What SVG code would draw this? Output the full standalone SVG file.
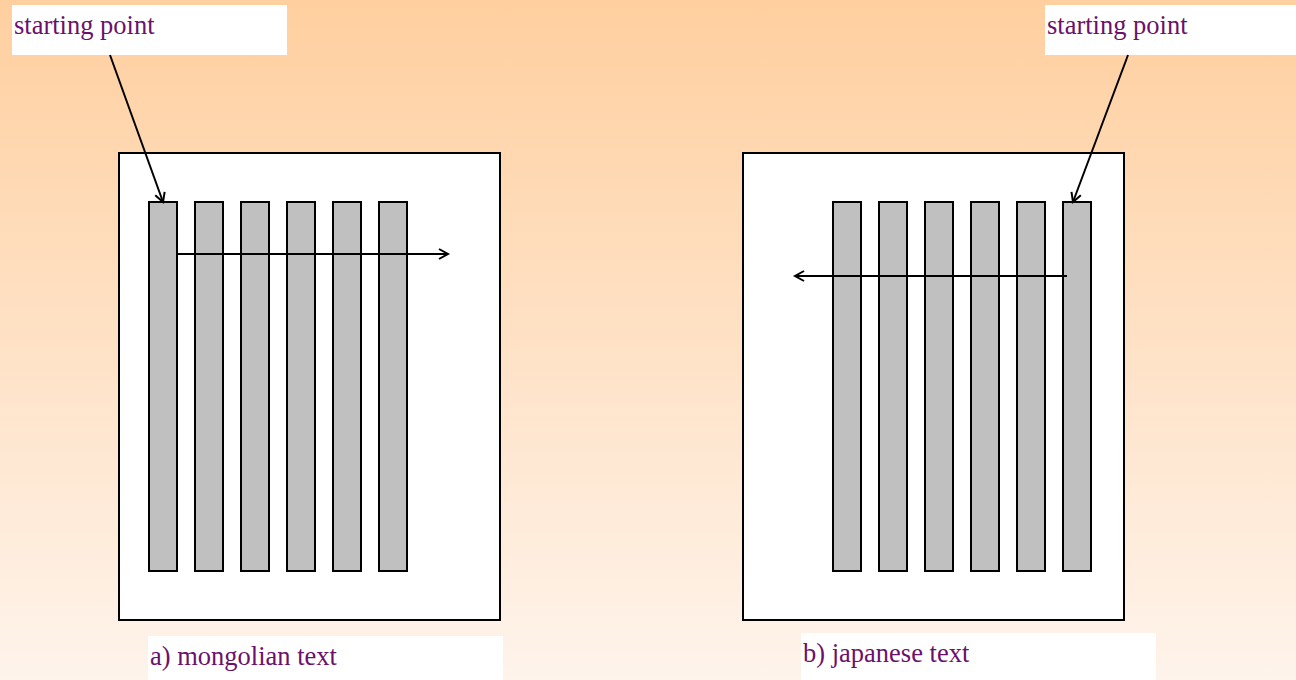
<svg xmlns="http://www.w3.org/2000/svg" width="1296" height="680" viewBox="0 0 1296 680">
<defs>
<linearGradient id="bg" x1="0" y1="0" x2="0" y2="1">
<stop offset="0" stop-color="#FFCF9F"/>
<stop offset="1" stop-color="#FEF4EC"/>
</linearGradient>
<marker id="arr" markerWidth="14" markerHeight="14" refX="11" refY="7" orient="auto" markerUnits="userSpaceOnUse">
<path d="M2,2 L11,7 L2,12" fill="none" stroke="#000" stroke-width="2"/>
</marker>
<style>
.lbl{fill:#fff}
.txt{font-family:"Liberation Serif","Times New Roman",serif;font-size:26.5px;fill:#6B116B}
.page{fill:#fff;stroke:#000;stroke-width:2}
.bar{fill:#C0C0C0;stroke:#000;stroke-width:2}
.con{stroke:#000;stroke-width:2;fill:none;marker-end:url(#arr)}
</style>
</defs>
<rect width="1296" height="680" fill="url(#bg)"/>
<g id="page-a">
<rect class="page" x="119" y="153" width="381" height="467"/>
<rect class="bar" x="149" y="202" width="28" height="369"/>
<rect class="bar" x="195" y="202" width="28" height="369"/>
<rect class="bar" x="241" y="202" width="28" height="369"/>
<rect class="bar" x="287" y="202" width="28" height="369"/>
<rect class="bar" x="333" y="202" width="28" height="369"/>
<rect class="bar" x="379" y="202" width="28" height="369"/>
</g>
<g id="page-b">
<rect class="page" x="743" y="153" width="381" height="467"/>
<rect class="bar" x="833" y="202" width="28" height="369"/>
<rect class="bar" x="879" y="202" width="28" height="369"/>
<rect class="bar" x="925" y="202" width="28" height="369"/>
<rect class="bar" x="971" y="202" width="28" height="369"/>
<rect class="bar" x="1017" y="202" width="28" height="369"/>
<rect class="bar" x="1063" y="202" width="28" height="369"/>
</g>
<g id="label-start-a">
<rect class="lbl" x="12" y="5" width="275" height="50"/>
<text class="txt" x="14" y="33.5">starting point</text>
</g>
<g id="label-start-b">
<rect class="lbl" x="1045" y="5" width="251" height="50"/>
<text class="txt" x="1047" y="33.5">starting point</text>
</g>
<g id="caption-a">
<rect class="lbl" x="148" y="636" width="355" height="44"/>
<text class="txt" x="150" y="664.5">a) mongolian text</text>
</g>
<g id="caption-b">
<rect class="lbl" x="801" y="633" width="355" height="47"/>
<text class="txt" x="803" y="661.5">b) japanese text</text>
</g>
<g id="connectors">
<line class="con" x1="110" y1="55" x2="163" y2="202"/>
<line class="con" x1="177" y1="254" x2="448" y2="254"/>
<line class="con" x1="1128" y1="55" x2="1073" y2="202"/>
<line class="con" x1="1067" y1="276" x2="795" y2="276"/>
</g>
</svg>
